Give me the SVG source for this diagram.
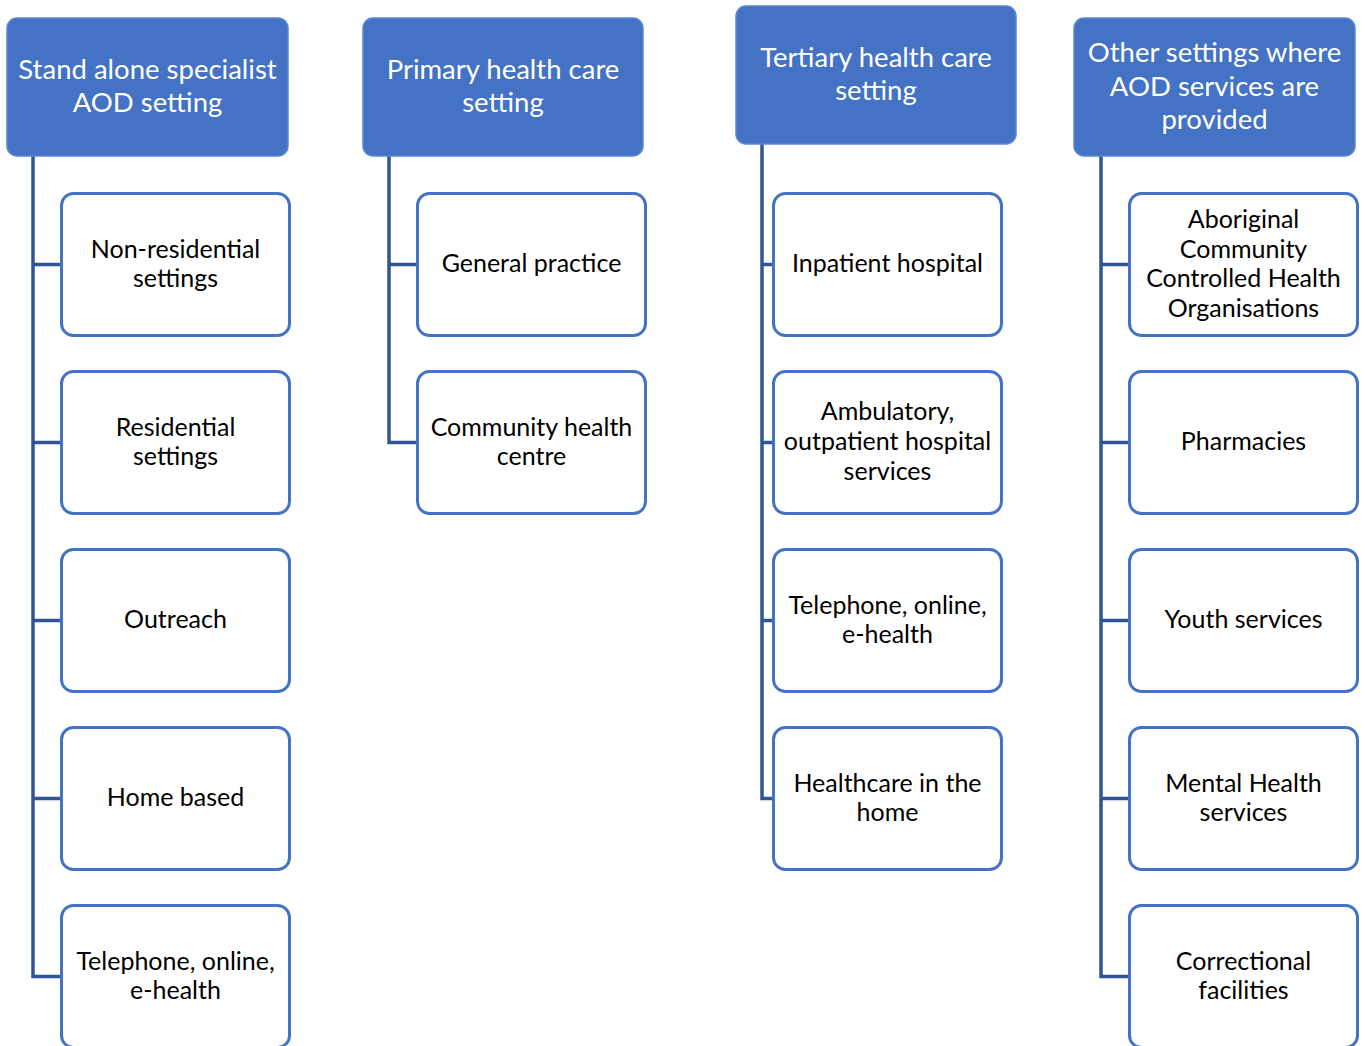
<svg xmlns="http://www.w3.org/2000/svg" width="1365" height="1046" viewBox="0 0 1365 1046">
<style>
.hdr{fill:#4472C4;stroke:#5B86D0;stroke-width:1.5}
.box{fill:#FFFFFF;stroke:#4472C4;stroke-width:3}
.ht{font-family:Lato,"Liberation Sans",sans-serif;font-size:27.5px;fill:#FFFFFF;text-anchor:middle}
.ct{font-family:Lato,"Liberation Sans",sans-serif;font-size:25px;fill:#000000;text-anchor:middle}
.conn{fill:none;stroke:#2F5597;stroke-width:3.5}
</style>
<rect width="1365" height="1046" fill="#FFFFFF"/>
<g id="connectors">
<path class="conn" d="M33,156 V976.5 H61 M33,264.5 H61 M33,442.5 H61 M33,620.5 H61 M33,798.5 H61"/>
<path class="conn" d="M389,156 V442.5 H417 M389,264.5 H417"/>
<path class="conn" d="M762,144 V798.5 H773 M762,264.5 H773 M762,442.5 H773 M762,620.5 H773"/>
<path class="conn" d="M1101,156 V976.5 H1129 M1101,264.5 H1129 M1101,442.5 H1129 M1101,620.5 H1129 M1101,798.5 H1129"/>
</g>
<g id="h1"><rect class="hdr" x="7" y="18" width="281" height="138" rx="10"/><text class="ht" x="147.5" y="79">Stand alone specialist</text><text class="ht" x="147.5" y="112">AOD setting</text></g>
<g id="h2"><rect class="hdr" x="363" y="18" width="280" height="138" rx="10"/><text class="ht" x="503" y="79">Primary health care</text><text class="ht" x="503" y="112">setting</text></g>
<g id="h3"><rect class="hdr" x="736" y="6" width="280" height="138" rx="10"/><text class="ht" x="876" y="67">Tertiary health care</text><text class="ht" x="876" y="100">setting</text></g>
<g id="h4"><rect class="hdr" x="1074" y="18" width="281" height="138" rx="10"/><text class="ht" x="1214.5" y="62">Other settings where</text><text class="ht" x="1214.5" y="96">AOD services are</text><text class="ht" x="1214.5" y="129">provided</text></g>

<g id="c1a"><rect class="box" x="61.5" y="193.5" width="228" height="142" rx="12"/><text class="ct" x="175.5" y="258">Non-residential</text><text class="ct" x="175.5" y="287">settings</text></g>
<g id="c1b"><rect class="box" x="61.5" y="371.5" width="228" height="142" rx="12"/><text class="ct" x="175.5" y="436">Residential</text><text class="ct" x="175.5" y="465">settings</text></g>
<g id="c1c"><rect class="box" x="61.5" y="549.5" width="228" height="142" rx="12"/><text class="ct" x="175.5" y="628">Outreach</text></g>
<g id="c1d"><rect class="box" x="61.5" y="727.5" width="228" height="142" rx="12"/><text class="ct" x="175.5" y="806">Home based</text></g>
<g id="c1e"><rect class="box" x="61.5" y="905.5" width="228" height="142" rx="12"/><text class="ct" x="175.5" y="970">Telephone, online,</text><text class="ct" x="175.5" y="999">e-health</text></g>

<g id="c2a"><rect class="box" x="417.5" y="193.5" width="228" height="142" rx="12"/><text class="ct" x="531.5" y="272">General practice</text></g>
<g id="c2b"><rect class="box" x="417.5" y="371.5" width="228" height="142" rx="12"/><text class="ct" x="531.5" y="436">Community health</text><text class="ct" x="531.5" y="465">centre</text></g>

<g id="c3a"><rect class="box" x="773.5" y="193.5" width="228" height="142" rx="12"/><text class="ct" x="887.5" y="272">Inpatient hospital</text></g>
<g id="c3b"><rect class="box" x="773.5" y="371.5" width="228" height="142" rx="12"/><text class="ct" x="887.5" y="420">Ambulatory,</text><text class="ct" x="887.5" y="450">outpatient hospital</text><text class="ct" x="887.5" y="480">services</text></g>
<g id="c3c"><rect class="box" x="773.5" y="549.5" width="228" height="142" rx="12"/><text class="ct" x="887.5" y="614">Telephone, online,</text><text class="ct" x="887.5" y="643">e-health</text></g>
<g id="c3d"><rect class="box" x="773.5" y="727.5" width="228" height="142" rx="12"/><text class="ct" x="887.5" y="792">Healthcare in the</text><text class="ct" x="887.5" y="821">home</text></g>

<g id="c4a"><rect class="box" x="1129.5" y="193.5" width="228" height="142" rx="12"/><text class="ct" x="1243.5" y="228">Aboriginal</text><text class="ct" x="1243.5" y="258">Community</text><text class="ct" x="1243.5" y="287">Controlled Health</text><text class="ct" x="1243.5" y="317">Organisations</text></g>
<g id="c4b"><rect class="box" x="1129.5" y="371.5" width="228" height="142" rx="12"/><text class="ct" x="1243.5" y="450">Pharmacies</text></g>
<g id="c4c"><rect class="box" x="1129.5" y="549.5" width="228" height="142" rx="12"/><text class="ct" x="1243.5" y="628">Youth services</text></g>
<g id="c4d"><rect class="box" x="1129.5" y="727.5" width="228" height="142" rx="12"/><text class="ct" x="1243.5" y="792">Mental Health</text><text class="ct" x="1243.5" y="821">services</text></g>
<g id="c4e"><rect class="box" x="1129.5" y="905.5" width="228" height="142" rx="12"/><text class="ct" x="1243.5" y="970">Correctional</text><text class="ct" x="1243.5" y="999">facilities</text></g>
</svg>
